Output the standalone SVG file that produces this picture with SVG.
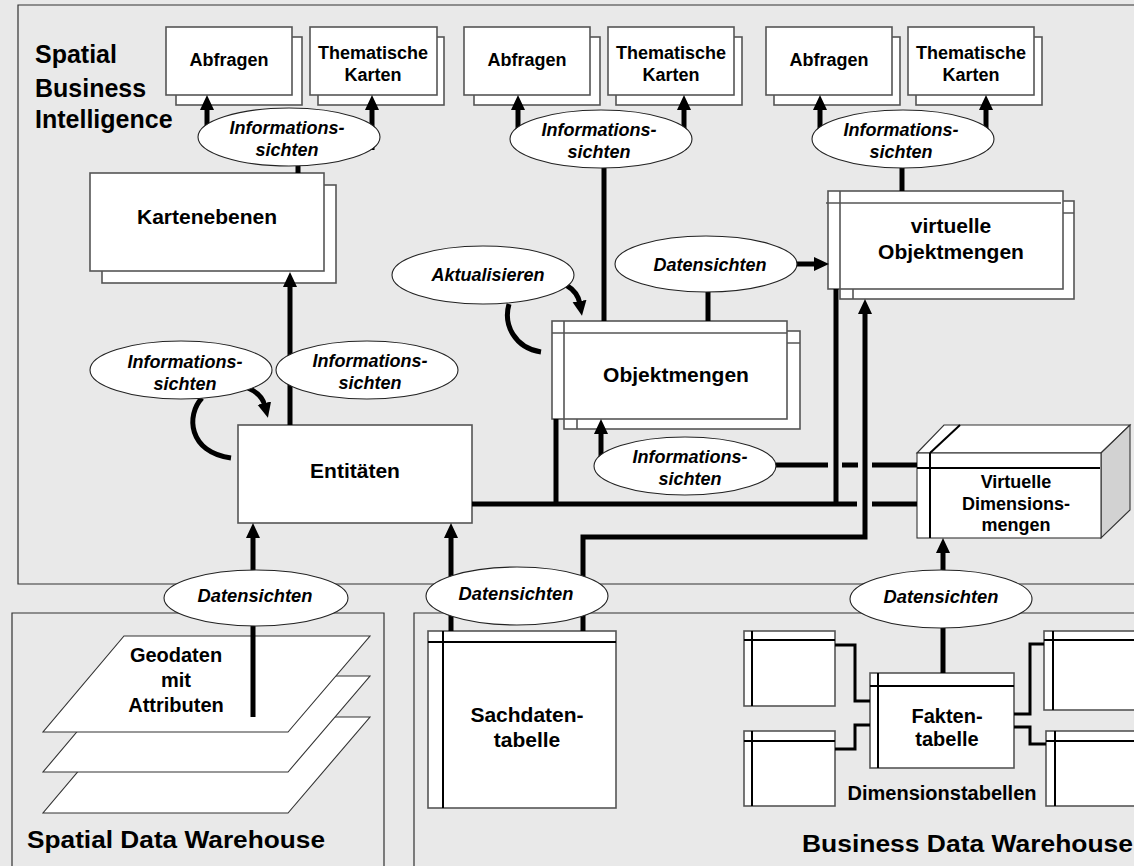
<svg xmlns="http://www.w3.org/2000/svg" width="1134" height="866" viewBox="0 0 1134 866">
<style>
  .bg { fill: #e9e9e9; }
  .panel { fill: none; stroke: #333; stroke-width: 1.2; }
  .box { fill: #fff; stroke: #555; stroke-width: 1.6; }
  .tbl { fill: #fff; stroke: #555; stroke-width: 1.6; }
  .inner { stroke: #000; stroke-width: 2; fill: none; }
  .innerg { stroke: #555; stroke-width: 1.6; fill: none; }
  .ell { fill: #fff; stroke: #222; stroke-width: 1.1; }
  .plane { fill: #fff; stroke: #333; stroke-width: 1.1; }
  .side { fill: #d2d2d2; stroke: #333; stroke-width: 1.1; }
  .top { fill: #fff; stroke: #333; stroke-width: 1.1; }
  .conn { fill: none; stroke: #000; stroke-width: 5; stroke-linejoin: miter; }
  .thin { fill: none; stroke: #000; stroke-width: 3; }
  .lbl { font-family: "Liberation Sans", Arial, sans-serif; font-weight: bold; fill: #000; text-anchor: middle; }
  .it { font-family: "Liberation Sans", Arial, sans-serif; font-weight: bold; font-style: italic; fill: #000; text-anchor: middle; font-size: 18px; }
  .title { font-family: "Liberation Sans", Arial, sans-serif; font-weight: bold; fill: #000; }
</style>
<defs>
  <marker id="ah" markerUnits="userSpaceOnUse" markerWidth="16" markerHeight="16" viewBox="0 0 16 16" refX="3" refY="8" orient="auto">
    <path d="M0,1 L15,8 L0,15 z" fill="#000"/>
  </marker>
</defs>

<rect class="bg" x="0" y="0" width="1134" height="866"/>

<g id="panels">
  <path class="panel" d="M1140 5 H18 V584 H1140"/>
  <path class="panel" d="M12 870 V613 H384 V870"/>
  <path class="panel" d="M414 870 V613 H1140"/>
  <text class="title" font-size="25" x="35" y="63">Spatial</text>
  <text class="title" font-size="25" x="35" y="97">Business</text>
  <text class="title" font-size="25" x="35" y="128">Intelligence</text>
  <text class="title" font-size="23" x="27" y="848" textLength="298" lengthAdjust="spacingAndGlyphs">Spatial Data Warehouse</text>
  <text class="title" font-size="23" x="802" y="852" textLength="331" lengthAdjust="spacingAndGlyphs">Business Data Warehouse</text>
</g>

<g id="geodaten">
  <polygon class="plane" points="43,813 288,813 370,717 124,717"/>
  <polygon class="plane" points="43,772 288,772 370,676 124,676"/>
  <polygon class="plane" points="43,732 288,732 370,636 124,636"/>
  <text class="lbl" font-size="20" x="176" y="662">Geodaten</text>
  <text class="lbl" font-size="20" x="176" y="687">mit</text>
  <text class="lbl" font-size="20" x="176" y="712">Attributen</text>
</g>

<g id="abfragen1">
  <rect class="box" x="176" y="37" width="126" height="68"/>
  <rect class="box" x="166" y="27" width="126" height="68"/>
  <text class="lbl" font-size="18" x="229" y="66">Abfragen</text>
</g>
<g id="karten1">
  <rect class="box" x="318" y="37" width="126" height="68"/>
  <rect class="box" x="310" y="27" width="127" height="68"/>
  <text class="lbl" font-size="18" x="373" y="59">Thematische</text>
  <text class="lbl" font-size="18" x="373" y="81">Karten</text>
</g>
<g id="abfragen2">
  <rect class="box" x="474" y="37" width="126" height="68"/>
  <rect class="box" x="464" y="27" width="126" height="68"/>
  <text class="lbl" font-size="18" x="527" y="66">Abfragen</text>
</g>
<g id="karten2">
  <rect class="box" x="616" y="37" width="126" height="68"/>
  <rect class="box" x="608" y="27" width="126" height="68"/>
  <text class="lbl" font-size="18" x="671" y="59">Thematische</text>
  <text class="lbl" font-size="18" x="671" y="81">Karten</text>
</g>
<g id="abfragen3">
  <rect class="box" x="774" y="37" width="126" height="68"/>
  <rect class="box" x="766" y="27" width="126" height="68"/>
  <text class="lbl" font-size="18" x="829" y="66">Abfragen</text>
</g>
<g id="karten3">
  <rect class="box" x="916" y="37" width="126" height="68"/>
  <rect class="box" x="908" y="27" width="126" height="68"/>
  <text class="lbl" font-size="18" x="971" y="59">Thematische</text>
  <text class="lbl" font-size="18" x="971" y="81">Karten</text>
</g>

<g id="kartenebenen">
  <rect class="box" x="102" y="185" width="234" height="98"/>
  <rect class="box" x="90" y="173" width="234" height="98"/>
  <text class="lbl" font-size="21" x="207" y="224">Kartenebenen</text>
</g>

<g id="entitaeten">
  <rect class="box" x="238" y="425" width="234" height="98"/>
  <text class="lbl" font-size="21" x="355" y="478">Entitäten</text>
</g>

<g id="objektmengen">
  <rect class="box" x="564" y="331" width="236" height="98"/>
  <line class="innerg" x1="564" y1="343" x2="800" y2="343"/>
  <line class="innerg" x1="577" y1="331" x2="577" y2="429"/>
  <rect class="box" x="552" y="321" width="235" height="98"/>
  <line class="innerg" x1="552" y1="333" x2="787" y2="333"/>
  <line class="innerg" x1="564" y1="321" x2="564" y2="419"/>
  <text class="lbl" font-size="21" x="676" y="382">Objektmengen</text>
</g>

<g id="virtuelle-objektmengen">
  <rect class="box" x="840" y="201" width="234" height="98"/>
  <line class="innerg" x1="840" y1="213" x2="1074" y2="213"/>
  <line class="innerg" x1="853" y1="201" x2="853" y2="299"/>
  <rect class="box" x="828" y="191" width="235" height="98"/>
  <line class="innerg" x1="826" y1="203" x2="1061" y2="203"/>
  <line class="innerg" x1="840" y1="191" x2="840" y2="289"/>
  <text class="lbl" font-size="21" x="951" y="233">virtuelle</text>
  <text class="lbl" font-size="21" x="951" y="259">Objektmengen</text>
</g>

<g id="virtuelle-dimensionsmengen">
  <polygon class="top" points="917,453 944,425 1130,425 1101,453"/>
  <polygon class="side" points="1101,453 1130,425 1130,510 1101,538"/>
  <rect class="tbl" x="917" y="453" width="184" height="85" style="stroke:#333;stroke-width:1.1"/>
  <line class="inner" x1="917" y1="468" x2="1100" y2="468"/>
  <line class="inner" x1="930" y1="453" x2="930" y2="538"/>
  <line class="inner" x1="930" y1="453" x2="960" y2="425"/>
  <text class="lbl" font-size="18" x="1016" y="488">Virtuelle</text>
  <text class="lbl" font-size="18" x="1016" y="510">Dimensions-</text>
  <text class="lbl" font-size="18" x="1016" y="531">mengen</text>
</g>

<g id="sachdatentabelle">
  <rect class="tbl" x="428" y="631" width="188" height="177"/>
  <line class="inner" x1="428" y1="642" x2="616" y2="642"/>
  <line class="inner" x1="443" y1="631" x2="443" y2="808"/>
  <text class="lbl" font-size="21" x="527" y="722">Sachdaten-</text>
  <text class="lbl" font-size="21" x="527" y="747">tabelle</text>
</g>

<g id="faktentabelle">
  <rect class="tbl" x="870" y="673" width="144" height="95"/>
  <line class="inner" x1="870" y1="686" x2="1014" y2="686"/>
  <line class="inner" x1="878" y1="673" x2="878" y2="768"/>
  <text class="lbl" font-size="20" x="947" y="723">Fakten-</text>
  <text class="lbl" font-size="20" x="947" y="746">tabelle</text>
</g>

<g id="dimensionstabellen">
  <rect class="tbl" x="744" y="631" width="91" height="75"/>
  <line class="inner" x1="744" y1="640" x2="835" y2="640"/>
  <line class="inner" x1="752" y1="631" x2="752" y2="706"/>
  <rect class="tbl" x="744" y="731" width="91" height="75"/>
  <line class="inner" x1="744" y1="741" x2="835" y2="741"/>
  <line class="inner" x1="752" y1="731" x2="752" y2="806"/>
  <rect class="tbl" x="1044" y="631" width="100" height="79"/>
  <line class="inner" x1="1044" y1="640" x2="1144" y2="640"/>
  <line class="inner" x1="1053" y1="631" x2="1053" y2="710"/>
  <rect class="tbl" x="1046" y="731" width="100" height="75"/>
  <line class="inner" x1="1046" y1="741" x2="1146" y2="741"/>
  <line class="inner" x1="1055" y1="731" x2="1055" y2="806"/>
  <text class="lbl" font-size="20" x="942" y="800">Dimensionstabellen</text>
</g>

<g id="connectors">
  <path class="conn" d="M207 130 V107" marker-end="url(#ah)"/>
  <path class="conn" d="M372 150 V107" marker-end="url(#ah)"/>
  <path class="conn" d="M518 130 V107" marker-end="url(#ah)"/>
  <path class="conn" d="M684 150 V107" marker-end="url(#ah)"/>
  <path class="conn" d="M820 130 V107" marker-end="url(#ah)"/>
  <path class="conn" d="M986 150 V107" marker-end="url(#ah)"/>
  <path class="conn" d="M298 150 V173"/>
  <path class="conn" d="M604 150 V321"/>
  <path class="conn" d="M902 150 V191"/>
  <path class="conn" d="M290 425 V284" marker-end="url(#ah)"/>
  <path class="conn" d="M248 388 Q262 394 265 406" marker-end="url(#ah)"/>
  <path class="conn" d="M202 398 C186 415 188 452 231 458"/>
  <path class="conn" d="M566 285 Q578 292 580 304" marker-end="url(#ah)"/>
  <path class="conn" d="M509 304 C503 325 515 348 541 352"/>
  <path class="conn" d="M708 270 V321"/>
  <path class="conn" d="M790 264 H817" marker-end="url(#ah)"/>
  <path class="conn" d="M601 466 V431" marker-end="url(#ah)"/>
  <path class="conn" d="M770 465 H828 M842 465 H858 M872 465 H917"/>
  <path class="conn" d="M472 504 H857 M872 504 H917"/>
  <path class="conn" d="M556 419 V506"/>
  <path class="conn" d="M836 289 V506"/>
  <path class="conn" d="M583 631 V537 H865 V311" marker-end="url(#ah)"/>
  <path class="conn" d="M451 631 V535" marker-end="url(#ah)"/>
  <path class="conn" d="M253 717 V535" marker-end="url(#ah)"/>
  <path class="conn" d="M943 673 V550" marker-end="url(#ah)"/>
  <path class="thin" d="M835 645 H855 V701 H870"/>
  <path class="thin" d="M835 749 H855 V725 H870"/>
  <path class="thin" d="M1014 714 H1030 V644 H1044"/>
  <path class="thin" d="M1014 727 H1030 V744 H1046"/>
</g>

<g id="info-sichten-1">
  <ellipse class="ell" cx="289" cy="137" rx="91" ry="29"/>
  <text class="it" x="287" y="134">Informations-</text>
  <text class="it" x="287" y="156">sichten</text>
</g>
<g id="info-sichten-2">
  <ellipse class="ell" cx="601" cy="139" rx="91" ry="29"/>
  <text class="it" x="599" y="136">Informations-</text>
  <text class="it" x="599" y="158">sichten</text>
</g>
<g id="info-sichten-3">
  <ellipse class="ell" cx="903" cy="139" rx="91" ry="29"/>
  <text class="it" x="901" y="136">Informations-</text>
  <text class="it" x="901" y="158">sichten</text>
</g>
<g id="info-sichten-a">
  <ellipse class="ell" cx="181" cy="370" rx="91" ry="29"/>
  <text class="it" x="185" y="368">Informations-</text>
  <text class="it" x="185" y="390">sichten</text>
</g>
<g id="info-sichten-b">
  <ellipse class="ell" cx="367" cy="370" rx="91" ry="29"/>
  <text class="it" x="370" y="367">Informations-</text>
  <text class="it" x="370" y="389">sichten</text>
</g>
<g id="aktualisieren">
  <ellipse class="ell" cx="483" cy="275" rx="91" ry="29"/>
  <text class="it" x="488" y="281">Aktualisieren</text>
</g>
<g id="datensichten-mid">
  <ellipse class="ell" cx="706" cy="264" rx="91" ry="28"/>
  <text class="it" x="710" y="271">Datensichten</text>
</g>
<g id="info-sichten-low">
  <ellipse class="ell" cx="685" cy="466" rx="91" ry="29"/>
  <text class="it" x="690" y="463">Informations-</text>
  <text class="it" x="690" y="485">sichten</text>
</g>
<g id="datensichten-spatial">
  <ellipse class="ell" cx="256" cy="598" rx="92" ry="28"/>
  <text class="it" x="255" y="602" font-size="17" textLength="115" lengthAdjust="spacingAndGlyphs">Datensichten</text>
</g>
<g id="datensichten-sach">
  <ellipse class="ell" cx="517" cy="596" rx="91" ry="29"/>
  <text class="it" x="516" y="600" font-size="17" textLength="115" lengthAdjust="spacingAndGlyphs">Datensichten</text>
</g>
<g id="datensichten-business">
  <ellipse class="ell" cx="941" cy="599" rx="91" ry="29"/>
  <text class="it" x="941" y="603" font-size="17" textLength="115" lengthAdjust="spacingAndGlyphs">Datensichten</text>
</g>
</svg>
